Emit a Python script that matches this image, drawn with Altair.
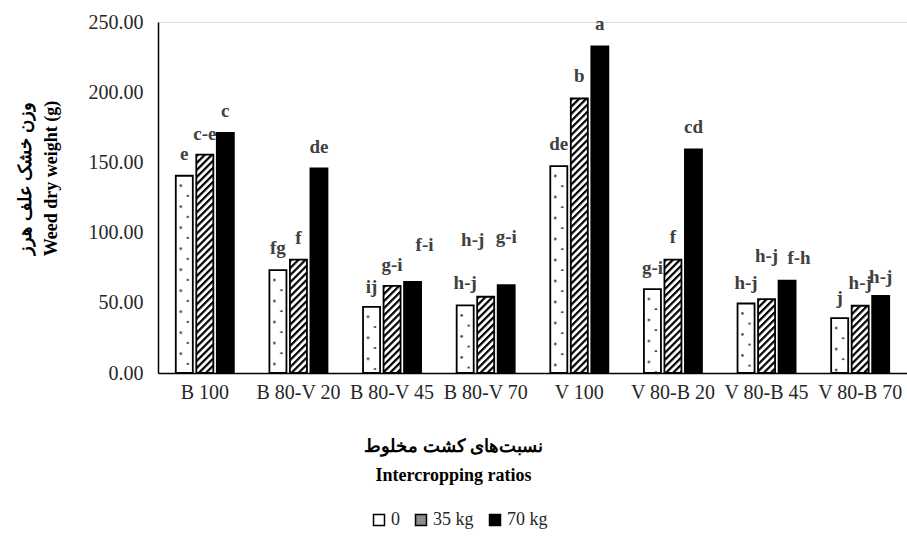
import urllib.parse
import altair as alt
import pandas as pd

# ---------------- data ----------------
categories = ["B 100", "B 80-V 20", "B 80-V 45", "B 80-V 70",
              "V 100", "V 80-B 20", "V 80-B 45", "V 80-B 70"]
series = ["0", "35 kg", "70 kg"]

weight_0 = [140.5, 73.3, 47.1, 48.1, 147.4, 59.8, 49.5, 39.1]
weight_35 = [155.5, 80.7, 62.1, 54.3, 195.5, 80.7, 52.6, 47.9]
weight_70 = [171.0, 145.7, 64.8, 62.6, 232.6, 159.3, 65.7, 55.0]

letters_0 = ["e", "fg", "ij", "h-j", "de", "g-i", "h-j", "j"]
letters_35 = ["c-e", "f", "g-i", "h-j", "b", "f", "h-j", "h-j"]
letters_70 = ["c", "de", "f-i", "g-i", "a", "cd", "f-h", "h-j"]

# heights (in grams) at which the letters sit
letter_h_0 = [155.7, 89.3, 61.4, 64.3, 162.9, 75.0, 64.3, 53.6]
letter_h_35 = [170.0, 96.4, 77.0, 95.0, 211.7, 97.0, 83.6, 64.3]
letter_h_70 = [186.4, 160.7, 91.4, 97.1, 248.6, 175.0, 82.1, 68.6]

y_title = ["وزن خشک علف هرز", "Weed dry weight (g)"]
x_title = ["نسبت‌های کشت مخلوط", "Intercropping ratios"]

# ---------------- table ----------------
rows = []
for vals, lets, lh, s in [(weight_0, letters_0, letter_h_0, series[0]),
                          (weight_35, letters_35, letter_h_35, series[1]),
                          (weight_70, letters_70, letter_h_70, series[2])]:
    for c, v, l, h in zip(categories, vals, lets, lh):
        rows.append({"cat": c, "series": s, "value": v, "letter": l, "lh": h, "zero": 0})
df = pd.DataFrame(rows)

# fill textures (drawn as images stretched over the bars)
dots_svg = ("<svg xmlns='http://www.w3.org/2000/svg'><defs>"
            "<pattern id='d' width='16' height='21' patternUnits='userSpaceOnUse'>"
            "<circle cx='5' cy='10' r='1.3' fill='#444'/>"
            "<circle cx='12' cy='20.5' r='1.3' fill='#444'/></pattern></defs>"
            "<rect width='100%' height='100%' fill='url(#d)'/></svg>")
hatch_svg = ("<svg xmlns='http://www.w3.org/2000/svg'><defs>"
             "<pattern id='h' width='5' height='5' patternUnits='userSpaceOnUse' "
             "patternTransform='rotate(45)'>"
             "<rect width='5' height='5' fill='white'/>"
             "<rect width='2.2' height='5' fill='black'/></pattern></defs>"
             "<rect width='100%' height='100%' fill='url(#h)'/></svg>")
texture = {
    "0": "data:image/svg+xml;charset=utf-8," + urllib.parse.quote(dots_svg, safe=""),
    "35 kg": "data:image/svg+xml;charset=utf-8," + urllib.parse.quote(hatch_svg, safe=""),
}
df["url"] = df["series"].map(texture).fillna("")

SERIF = "Liberation Serif"

x_axis = alt.Axis(
    title=x_title,
    labelAngle=0, labelFont=SERIF, labelFontSize=20, labelColor="#262626",
    labelPadding=9, ticks=False, domainColor="black", domainWidth=1.5,
    titleFont=SERIF, titleFontSize=18, titleFontWeight="bold", titleColor="black",
    titleX=295, titleY=64, titleAlign="center", titleBaseline="top",
    titleLineHeight=29, labelLimit=200)
y_axis = alt.Axis(
    title=None,
    values=[0, 50, 100, 150, 200, 250], format=".2f",
    labelFont=SERIF, labelFontSize=20, labelColor="#262626", labelPadding=15,
    ticks=False, grid=False, domainColor="black", domainWidth=1.5)

x_enc = alt.X("cat:N", sort=categories,
              scale=alt.Scale(paddingInner=0.38, paddingOuter=0.19), axis=x_axis)
xo_enc = alt.XOffset("series:N", sort=series,
                     scale=alt.Scale(paddingInner=0.17, paddingOuter=0))
y_scale = alt.Scale(domain=[0, 250], nice=False)

base = alt.Chart(df)

bars = base.mark_bar().encode(
    x=x_enc, xOffset=xo_enc, y=alt.Y("value:Q", scale=y_scale, axis=y_axis),
    color=alt.Color("series:N", sort=series,
                    scale=alt.Scale(domain=series, range=["white", "#8c8c8c", "black"]),
                    legend=alt.Legend(orient="none", legendX=212, legendY=489,
                                      direction="horizontal", title=None,
                                      symbolType="square", symbolSize=120,
                                      symbolStrokeColor="black", symbolStrokeWidth=1.5,
                                      labelFont=SERIF, labelFontSize=18,
                                      labelColor="#262626", labelOffset=3,
                                      columnPadding=12)),
)

textures = base.transform_filter(alt.datum.series != "70 kg").mark_image(aspect=False).encode(
    x=x_enc, xOffset=xo_enc,
    y=alt.Y("value:Q", scale=y_scale, axis=y_axis), y2=alt.Y2("zero:Q"),
    url=alt.Url("url:N"),
)

outline = base.mark_bar(fillOpacity=0, stroke="black", strokeWidth=1.8).encode(
    x=x_enc, xOffset=xo_enc, y=alt.Y("value:Q", scale=y_scale, axis=y_axis),
)

def letters_layer(flt, dx):
    return base.transform_filter(flt).mark_text(
        font=SERIF, fontSize=19, fontWeight="bold", color="#404040",
        baseline="middle", align="center", dx=dx
    ).encode(
        x=x_enc, xOffset=xo_enc,
        y=alt.Y("lh:Q", scale=y_scale, axis=y_axis), text="letter:N",
    )

nudge_left = (alt.datum.cat == "B 80-V 70") & (alt.datum.series == "35 kg")
nudge_right = ((alt.datum.cat == "V 80-B 45") & (alt.datum.series == "70 kg")) | \
              ((alt.datum.cat == "B 80-V 45") & (alt.datum.series == "70 kg"))
letters_main = letters_layer(~(nudge_left | nudge_right), 0)
letters_l = letters_layer(nudge_left, -13)
letters_r = letters_layer(nudge_right, 12)

chart = alt.layer(bars, textures, outline, letters_main, letters_l, letters_r).properties(
    width=749, height=351,
    title=alt.TitleParams(text=y_title, orient="left", anchor="middle",
                          font=SERIF, fontSize=18, fontWeight="bold", color="black",
                          lineHeight=26, offset=27, dx=19),
    autosize=alt.AutoSizeParams(type="none"),
    padding={"left": 158, "top": 22, "right": 0, "bottom": 172},
).configure_view(stroke=None).configure(background="white")

chart.save("out.html", embed_options={"renderer": "svg", "actions": False})
